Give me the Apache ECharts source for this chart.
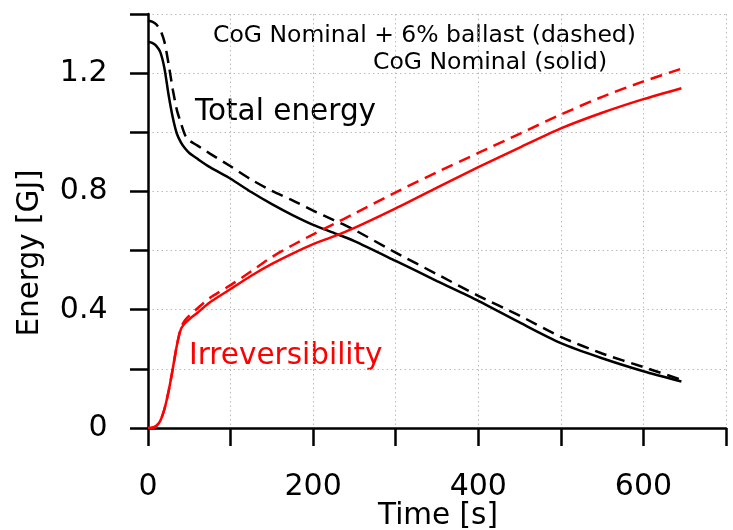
<!DOCTYPE html>
<html>
<head>
<meta charset="utf-8">
<script src="https://cdn.jsdelivr.net/npm/echarts@6/dist/echarts.min.js"></script>
<style>html,body{margin:0;padding:0;background:#fff}#c{width:733px;height:530px}</style>
</head>
<body>
<div id="c"></div>
<script>
// Time [s]
var time = [0,5,10,15,20,25,30,35,40,45,50,60,75,100,125,150,175,200,225,250,300,350,400,450,500,550,600,646];
// Total energy, CoG Nominal (solid)
var totalNominal = [1.306,1.302,1.292,1.27,1.215,1.125,1.05,0.995,0.965,0.945,0.93,0.91,0.882,0.843,0.798,0.757,0.72,0.687,0.66,0.632,0.565,0.497,0.43,0.357,0.287,0.236,0.192,0.157];
// Total energy, CoG Nominal + 6% ballast (dashed)
var totalBallast = [1.378,1.374,1.365,1.345,1.305,1.23,1.145,1.075,1.03,0.99,0.972,0.955,0.928,0.885,0.84,0.802,0.77,0.735,0.703,0.67,0.593,0.52,0.447,0.38,0.308,0.252,0.206,0.163];
// Irreversibility, CoG Nominal (solid)
var irrNominal = [0,0.001,0.007,0.025,0.065,0.125,0.2,0.28,0.335,0.355,0.368,0.39,0.425,0.47,0.515,0.555,0.59,0.622,0.648,0.677,0.743,0.813,0.882,0.948,1.013,1.066,1.112,1.149];
// Irreversibility, CoG Nominal + 6% ballast (dashed)
var irrBallast = [0,0.001,0.007,0.025,0.065,0.125,0.2,0.28,0.34,0.365,0.38,0.405,0.44,0.483,0.53,0.578,0.618,0.655,0.69,0.725,0.797,0.865,0.93,0.995,1.06,1.12,1.172,1.215];
var xTicks = [0,200,400,600];
var yTicks = [0,0.4,0.8,1.2];

function pairs(vals){ return time.map(function(t,i){ return [t, vals[i]]; }); }

var FONT = 'DejaVu Sans';
var chart = echarts.init(document.getElementById('c'), null, {renderer:'canvas'});
var lw = 2.5;
chart.setOption({
  animation: false,
  backgroundColor: '#fff',
  grid: {left: 148, right: 7, top: 14, bottom: 102, containLabel: false},
  xAxis: {
    type: 'value', min: 0, max: 700, interval: 100, offset: 17,
    axisLine: {show: true, lineStyle: {color: '#000', width: lw}},
    axisTick: {show: true, length: 18, lineStyle: {color: '#000', width: lw}},
    axisLabel: {margin: 27, color: '#000', fontFamily: FONT, fontSize: 30,
      formatter: function(v){ return xTicks.indexOf(v) >= 0 ? String(v) : ''; }},
    splitLine: {show: true, lineStyle: {color: '#bbbbbb', width: 1, type: [1.5, 3]}}
  },
  yAxis: {
    type: 'value', min: 0, max: 1.4, interval: 0.2, offset: 15.5,
    axisLine: {show: true, lineStyle: {color: '#000', width: lw}},
    axisTick: {show: true, length: 18, lineStyle: {color: '#000', width: lw}},
    axisLabel: {margin: 25, color: '#000', fontFamily: FONT, fontSize: 30,
      formatter: function(v){
        for (var i=0;i<yTicks.length;i++){ if (Math.abs(v-yTicks[i])<1e-6) return yTicks[i]===0?'0':yTicks[i].toFixed(1); }
        return '';
      }},
    splitLine: {show: true, lineStyle: {color: '#bbbbbb', width: 1, type: [1.5, 3]}}
  },
  series: [
    {type:'line', data: pairs(totalNominal), smooth: 0.25, showSymbol:false, symbol:'none', lineStyle:{color:'#000', width:lw}},
    {type:'line', data: pairs(totalBallast), smooth: 0.25, showSymbol:false, symbol:'none', lineStyle:{color:'#000', width:lw, type:[12,7]}},
    {type:'line', data: pairs(irrNominal), smooth: 0.25, showSymbol:false, symbol:'none', lineStyle:{color:'#ff0000', width:lw}},
    {type:'line', data: pairs(irrBallast), smooth: 0.25, showSymbol:false, symbol:'none', lineStyle:{color:'#ff0000', width:lw, type:[12,7]}}
  ],
  graphic: [
    {type:'text', x: 30, y: 253, rotation: Math.PI/2, style:{text:'Energy [GJ]', fill:'#000', font:'29.5px "DejaVu Sans"', textAlign:'center', textVerticalAlign:'middle'}},
    {type:'text', x: 438, y: 516, style:{text:'Time [s]', fill:'#000', font:'29.5px "DejaVu Sans"', textAlign:'center', textVerticalAlign:'middle'}},
    {type:'text', x: 213, y: 36, style:{text:'CoG Nominal + 6% ballast (dashed)', fill:'#000', font:'23.5px "DejaVu Sans"', textAlign:'left', textVerticalAlign:'middle'}},
    {type:'text', x: 373, y: 63, style:{text:'CoG Nominal (solid)', fill:'#000', font:'23.5px "DejaVu Sans"', textAlign:'left', textVerticalAlign:'middle'}},
    {type:'text', x: 195, y: 112, style:{text:'Total energy', fill:'#000', font:'29.5px "DejaVu Sans"', textAlign:'left', textVerticalAlign:'middle'}},
    {type:'text', x: 189, y: 356, style:{text:'Irreversibility', fill:'#ff0000', font:'29.5px "DejaVu Sans"', textAlign:'left', textVerticalAlign:'middle'}}
  ]
});
</script>
</body>
</html>
